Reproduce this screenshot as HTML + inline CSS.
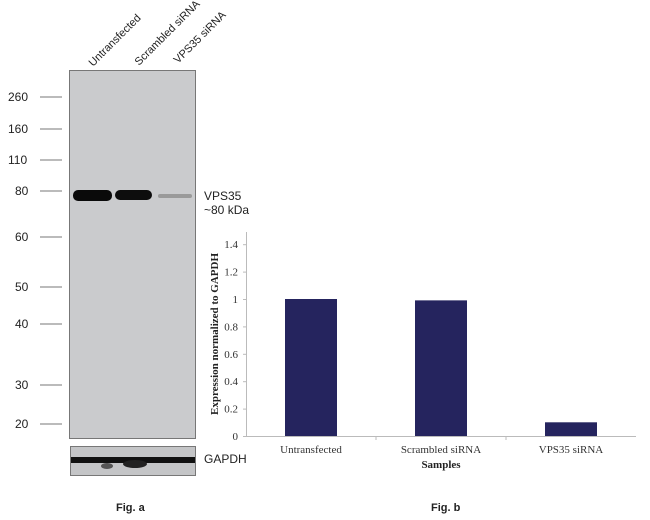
<!DOCTYPE html>
<html><head><meta charset="utf-8"><style>
body{margin:0;background:#fff;width:650px;height:520px;overflow:hidden;position:relative;font-family:"Liberation Sans",Arial,sans-serif}
.a{position:absolute}
</style></head><body>
<svg class="a" style="left:0;top:0" width="650" height="520">
  <g>
    <rect x="69.5" y="70.5" width="126" height="368" fill="#cacbcd" stroke="#777"/>
    <rect x="73" y="190" width="39" height="11" rx="5" fill="#0a0a0a"/>
    <rect x="115" y="190" width="37" height="10" rx="5" fill="#0d0d0d"/>
    <rect x="158" y="194" width="34" height="4" rx="2" fill="#9a9a9a"/>
    <g font-size="11" fill="#222">
      <text transform="translate(93,67) rotate(-45)">Untransfected</text>
      <text transform="translate(139,66) rotate(-45)">Scrambled siRNA</text>
      <text transform="translate(178,64) rotate(-45)">VPS35 siRNA</text>
    </g>
    <g font-size="12" fill="#222" stroke-width="1">
      <text x="8" y="101">260</text><line x1="40" x2="62" y1="97" y2="97" stroke="#777"/>
      <text x="8" y="133">160</text><line x1="40" x2="62" y1="129" y2="129" stroke="#777"/>
      <text x="8" y="164">110</text><line x1="40" x2="62" y1="160" y2="160" stroke="#777"/>
      <text x="15" y="195">80</text><line x1="40" x2="62" y1="191" y2="191" stroke="#777"/>
      <text x="15" y="241">60</text><line x1="40" x2="62" y1="237" y2="237" stroke="#777"/>
      <text x="15" y="291">50</text><line x1="40" x2="62" y1="287" y2="287" stroke="#777"/>
      <text x="15" y="328">40</text><line x1="40" x2="62" y1="324" y2="324" stroke="#777"/>
      <text x="15" y="389">30</text><line x1="40" x2="62" y1="385" y2="385" stroke="#777"/>
      <text x="15" y="428">20</text><line x1="40" x2="62" y1="424" y2="424" stroke="#777"/>
    </g>
    <text x="204" y="200" font-size="12" fill="#222">VPS35</text>
    <text x="204" y="214" font-size="12" fill="#222">~80 kDa</text>
    <rect x="70.5" y="446.5" width="125" height="29" fill="#c4c5c7" stroke="#777"/>
    <rect x="71" y="457" width="124" height="6" fill="#111"/>
    <ellipse cx="135" cy="464" rx="12" ry="4" fill="#222"/>
    <ellipse cx="107" cy="466" rx="6" ry="3" fill="#555"/>
    <text x="204" y="463" font-size="12" fill="#222">GAPDH</text>
    <text x="116" y="511" font-size="11" font-weight="bold" fill="#222">Fig. a</text>
  </g>
  <g id="chart"></g>
  <text x="431" y="511" font-size="11" font-weight="bold" fill="#222">Fig. b</text>
</svg>
<script>
const categories=["Untransfected","Scrambled siRNA","VPS35 siRNA"];
const values=[1.0,0.99,0.1];
const ticks=[0,0.2,0.4,0.6,0.8,1,1.2,1.4];
const NS="http://www.w3.org/2000/svg";
const g=document.getElementById('chart');
const x0=246,x1=636,y0=436,k=137;
const yS=v=>y0-v*k;
const bw=(x1-x0)/categories.length;
function mk(t,a,p){const e=document.createElementNS(NS,t);for(const n in a)e.setAttribute(n,a[n]);(p||g).appendChild(e);return e;}
const ax=mk('line',{x1:x0+0.5,x2:x0+0.5,y1:232,y2:y0,stroke:'#bbb'});


const bx=mk('line',{x1:x0,x2:x1,y1:y0+0.5,y2:y0+0.5,stroke:'#bbb'});


ticks.forEach(t=>{
 mk('line',{x1:x0-3,x2:x0,y1:yS(t)+0.5,y2:yS(t)+0.5,stroke:'#bbb'});
 const tx=mk('text',{x:x0-8,y:yS(t)+4,'text-anchor':'end','font-size':11,'font-family':'Liberation Serif,serif',fill:'#333'});
 tx.textContent=String(t);
 
 
});
for(let i=1;i<categories.length;i++)mk('line',{x1:x0+bw*i,x2:x0+bw*i,y1:y0,y2:y0+4,stroke:'#bbb'});
categories.forEach((c,i)=>{
 const cx=x0+bw*(i+0.5);
 const r=mk('rect',{x:cx-26,y:yS(values[i]),width:52,height:values[i]*k,fill:'#25245e'});
 
 
 const t=mk('text',{x:cx,y:y0+17,'text-anchor':'middle','font-size':11,'font-family':'Liberation Serif,serif',fill:'#333'});
 t.textContent=c;
 
 
});
const xt=mk('text',{x:x0+bw*1.5,y:468,'text-anchor':'middle','font-size':11,'font-weight':'bold','font-family':'Liberation Serif,serif',fill:'#222'});
xt.textContent='Samples';


const yt=mk('text',{transform:'translate(218,334) rotate(-90)','text-anchor':'middle','font-size':11,'font-weight':'bold','font-family':'Liberation Serif,serif',fill:'#222'});
yt.textContent='Expression normalized to GAPDH';


</script>
</body></html>
